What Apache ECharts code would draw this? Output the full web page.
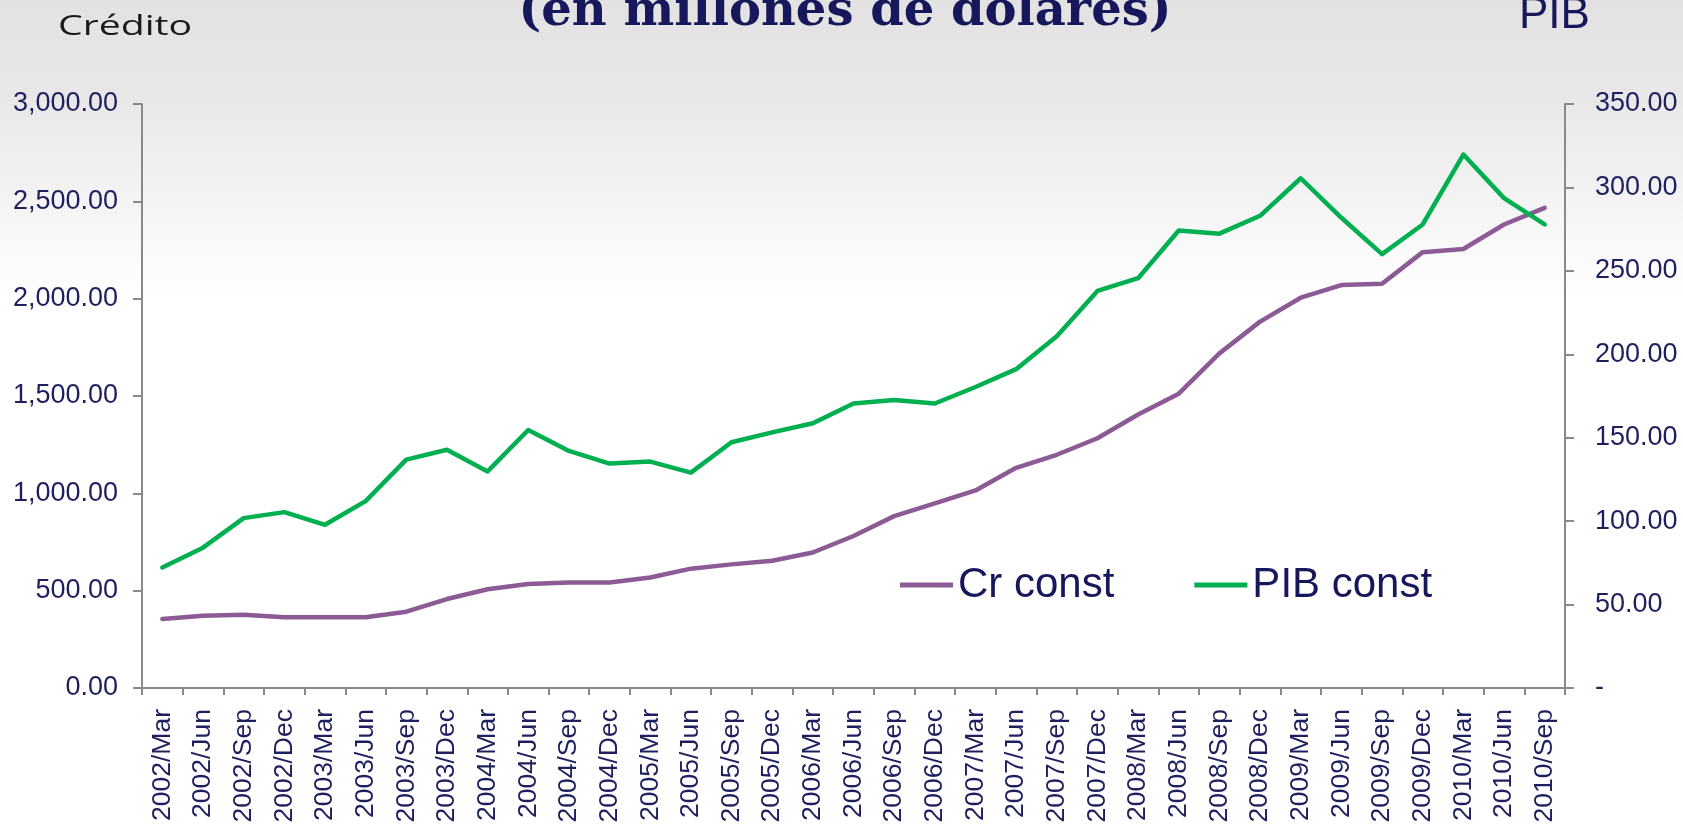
<!DOCTYPE html>
<html>
<head>
<meta charset="utf-8">
<script src="https://cdn.jsdelivr.net/npm/echarts@6/dist/echarts.min.js"></script>
<style>
  html, body { margin: 0; padding: 0; background: #ffffff; }
  #chart { width: 1683px; height: 827px; }
</style>
</head>
<body>
<div id="chart"></div>
<script>
const categories = [
  '2002/Mar','2002/Jun','2002/Sep','2002/Dec',
  '2003/Mar','2003/Jun','2003/Sep','2003/Dec',
  '2004/Mar','2004/Jun','2004/Sep','2004/Dec',
  '2005/Mar','2005/Jun','2005/Sep','2005/Dec',
  '2006/Mar','2006/Jun','2006/Sep','2006/Dec',
  '2007/Mar','2007/Jun','2007/Sep','2007/Dec',
  '2008/Mar','2008/Jun','2008/Sep','2008/Dec',
  '2009/Mar','2009/Jun','2009/Sep','2009/Dec',
  '2010/Mar','2010/Jun','2010/Sep'
];
const crConst = [355,371,376,363,363,363,392,457,507,534,542,542,568,613,635,654,696,781,883,948,1015,1131,1198,1283,1405,1512,1719,1882,2005,2070,2077,2239,2255,2381,2466];
const pibConst = [72.2,84.1,101.8,105.4,97.8,112.0,136.9,142.8,129.8,154.6,142.1,134.5,135.7,129.1,147.3,153.2,158.7,170.5,172.6,170.5,180.4,191.1,210.8,238.0,245.6,274.2,272.3,283.0,305.5,281.8,260.0,277.8,319.7,293.6,277.8];
const seriesNames = ['Cr const', 'PIB const'];
const titleText = '(en millones de dolares)';
const leftTitle = 'Crédito';
const rightTitle = 'PIB';

const navy = '#1f1f5f';
const axisGray = '#8a8a8a';

function fmtThousands(v) {
  const s = v.toFixed(2);
  const parts = s.split('.');
  parts[0] = parts[0].replace(/\B(?=(\d{3})+(?!\d))/g, ',');
  return parts.join('.');
}

const chart = echarts.init(document.getElementById('chart'), null, { renderer: 'canvas' });
chart.setOption({
  animation: false,
  backgroundColor: {
    type: 'linear', x: 0, y: 0, x2: 0, y2: 1,
    colorStops: [
      { offset: 0, color: '#e2e2e2' },
      { offset: 0.12, color: '#e8e8e8' },
      { offset: 0.36, color: '#ffffff' },
      { offset: 1, color: '#ffffff' }
    ]
  },
  graphic: [
    { type: 'text', x: 845, y: 13, silent: true,
      style: { text: titleText, font: 'bold 48px "DejaVu Serif"', fill: '#17175c',
               textAlign: 'center', textVerticalAlign: 'middle' } },
    { type: 'text', x: 1519, y: 16, silent: true,
      style: { text: rightTitle, font: '44px "Liberation Sans"', fill: '#17175c',
               textAlign: 'left', textVerticalAlign: 'middle' } },
    { type: 'text', x: 58, y: 27, scaleX: 1.4, silent: true,
      style: { text: leftTitle, font: '28px "Open Sans"', fill: '#1a1a1a',
               textAlign: 'left', textVerticalAlign: 'middle' } }
  ],
  grid: { left: 142, right: 118, top: 104, bottom: 139, containLabel: false },
  legend: {
    data: seriesNames,
    left: 900, top: 564,
    padding: 0,
    itemGap: 80,
    itemWidth: 53, itemHeight: 5,
    icon: 'rect',
    textStyle: { fontSize: 42, fontFamily: 'Liberation Sans', color: '#17175c' }
  },
  xAxis: {
    type: 'category',
    data: categories,
    boundaryGap: true,
    axisLine: { lineStyle: { color: axisGray, width: 2 } },
    axisTick: { show: true, length: 7, lineStyle: { color: axisGray, width: 2 } },
    axisLabel: { interval: 0, rotate: 90, margin: 21, fontSize: 26.5,
                 fontFamily: 'Liberation Sans', color: navy },
    splitLine: { show: false }
  },
  yAxis: [
    {
      type: 'value', position: 'left', min: 0, max: 3000, interval: 500,
      axisLine: { show: true, lineStyle: { color: axisGray, width: 2 } },
      axisTick: { show: true, length: 9, lineStyle: { color: axisGray, width: 2 } },
      axisLabel: { margin: 24, fontSize: 27, fontFamily: 'Liberation Sans', color: navy,
                   formatter: fmtThousands },
      splitLine: { show: false }
    },
    {
      type: 'value', position: 'right', min: 0, max: 350, interval: 50,
      axisLine: { show: true, lineStyle: { color: axisGray, width: 2 } },
      axisTick: { show: true, length: 9, lineStyle: { color: axisGray, width: 2 } },
      axisLabel: { margin: 30, fontSize: 27, fontFamily: 'Liberation Sans', color: navy,
                   formatter: function (v) { return v === 0 ? '-' : v.toFixed(2); } },
      splitLine: { show: false }
    }
  ],
  series: [
    { name: seriesNames[0], type: 'line', yAxisIndex: 0, data: crConst,
      symbol: 'none', smooth: false,
      lineStyle: { color: '#8c5b95', width: 4.5, cap: 'round', join: 'round' },
      itemStyle: { color: '#8c5b95' } },
    { name: seriesNames[1], type: 'line', yAxisIndex: 1, data: pibConst,
      symbol: 'none', smooth: false,
      lineStyle: { color: '#00b050', width: 4.5, cap: 'round', join: 'round' },
      itemStyle: { color: '#00b050' } }
  ]
});
</script>
</body>
</html>
